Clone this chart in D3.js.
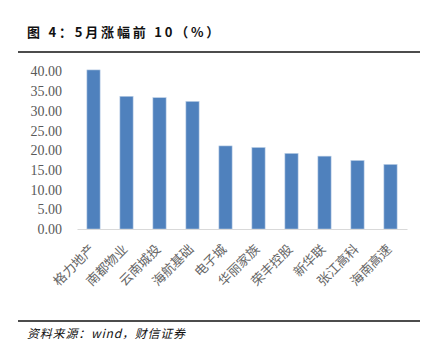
<!DOCTYPE html>
<html>
<head>
<meta charset="utf-8">
<script src="https://cdn.jsdelivr.net/npm/d3@7"></script>
<style>
  body { margin: 0; background: #fff; }
  svg { display: block; }
</style>
</head>
<body>
<svg id="chart"></svg>
<script>
// data
const names = ['格力地产', '南都物业', '云南城投', '海航基础', '电子城', '华丽家族', '荣丰控股', '新华联', '张江高科', '海南高速'];
const gains = [40.4, 33.7, 33.35, 32.4, 21.1, 20.7, 19.2, 18.5, 17.4, 16.4];
const yTicks = [0, 5, 10, 15, 20, 25, 30, 35, 40];

const W = 429, H = 351;
const margin = {top: 71.5, right: 22, bottom: 122, left: 77};
const width = W - margin.left - margin.right;
const height = H - margin.top - margin.bottom;

const svg = d3.select('#chart')
    .attr('width', W)
    .attr('height', H);

// title and rules
svg.append('text')
    .attr('x', 27)
    .attr('y', 37)
    .attr('font-family', '"Noto Sans CJK SC", sans-serif')
    .attr('font-weight', 'bold')
    .attr('font-size', '13px')
    .attr('letter-spacing', '2.8px')
    .attr('fill', '#111')
    .text('图 4：5月涨幅前 10（%）');

svg.append('line')
    .attr('x1', 18).attr('x2', 420)
    .attr('y1', 52).attr('y2', 52)
    .attr('stroke', '#111')
    .attr('stroke-width', 1.6);

svg.append('line')
    .attr('x1', 18).attr('x2', 420)
    .attr('y1', 321).attr('y2', 321)
    .attr('stroke', '#111')
    .attr('stroke-width', 1.6);

svg.append('text')
    .attr('x', 27)
    .attr('y', 338)
    .attr('font-family', '"Noto Sans CJK SC", sans-serif')
    .attr('font-style', 'italic')
    .attr('font-size', '12px')
    .attr('letter-spacing', '0.8px')
    .attr('fill', '#111')
    .text('资料来源：wind，财信证券');

const g = svg.append('g')
    .attr('transform', `translate(${margin.left},${margin.top})`);

const x = d3.scaleBand()
    .domain(names)
    .range([0, width])
    .paddingInner(0.6)
    .paddingOuter(0.3);

const y = d3.scaleLinear()
    .domain([0, 40])
    .range([height, 0]);

// y axis labels only
const yAxis = g.append('g')
    .call(d3.axisLeft(y).tickValues(yTicks).tickSize(0).tickPadding(15).tickFormat(d3.format('.2f')));
yAxis.select('.domain').remove();
yAxis.selectAll('text')
    .attr('font-family', '"Liberation Serif", serif')
    .attr('font-size', '14px')
    .attr('fill', '#595959');

// bars
g.selectAll('.bar')
    .data(names)
    .join('rect')
    .attr('class', 'bar')
    .attr('x', d => x(d))
    .attr('width', x.bandwidth())
    .attr('y', (d, i) => y(gains[i]))
    .attr('height', (d, i) => height - y(gains[i]))
    .attr('fill', '#4f81bd')
    .attr('stroke', '#b9cde5')
    .attr('stroke-width', 0.6);

// x axis
const xAxis = g.append('g')
    .attr('transform', `translate(0,${height})`)
    .call(d3.axisBottom(x).tickSize(0).tickPadding(0));
xAxis.select('.domain')
    .attr('stroke', '#d9d9d9')
    .attr('stroke-width', 1.2);
xAxis.selectAll('text')
    .attr('font-family', '"Noto Sans CJK SC", sans-serif')
    .attr('font-size', '13px')
    .attr('fill', '#666')
    .attr('text-anchor', 'end')
    .attr('dy', null)
    .attr('transform', 'translate(2,21) rotate(-45)');
</script>
</body>
</html>
